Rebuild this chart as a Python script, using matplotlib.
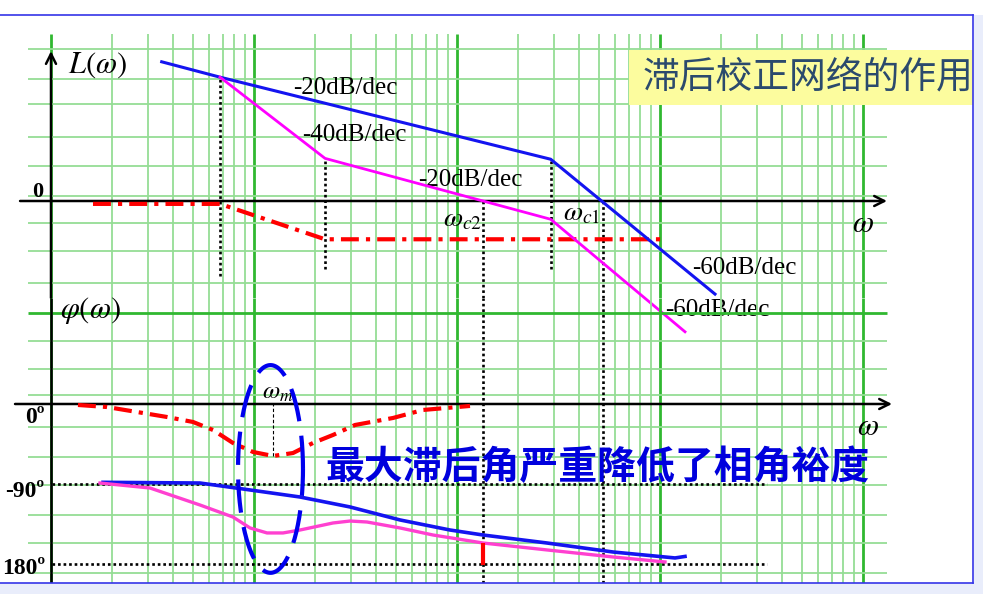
import matplotlib.pyplot as plt
import numpy as np
from matplotlib.patches import Rectangle
from matplotlib.lines import Line2D

plt.rcParams['mathtext.fontset'] = 'stix'

# ---- values ----
# magnitude asymptotes, L in dB against omega
w_orig = [0.0351, 0.068, 2.894, 18.66]          # uncorrected (blue)
L_orig = [48.0, 42.7, 14.4, -32.1]
w_corr = [0.068, 0.2238, 1.343, 2.894, 13.28]   # corrected (magenta)
L_corr = [42.7, 14.7, 0.0, -6.3, -45.1]
w_lag = [0.0161, 0.068, 0.2238, 10.23]          # lag network (red)
L_lag = [-1.0, -1.0, -13.2, -13.2]

# phase in degrees
w_ph_lag = [0.01358, 0.01888, 0.03727, 0.05006, 0.06281, 0.07879, 0.09888, 0.1241,
            0.1556, 0.1953, 0.2450, 0.3145, 0.4840, 0.6804, 1.159]
ph_lag = [-1.1, -3.4, -14.6, -20.2, -29.2, -43.8, -53.9, -58.4,
          -55.1, -43.8, -34.8, -23.6, -15.7, -6.7, -2.2]
w_ph_orig = [0.01804, 0.0542, 0.0883, 0.1685, 0.2972, 0.5240, 0.9237, 1.343,
             2.776, 5.868, 11.86, 13.28]
ph_orig = [-88.0, -88.8, -95.5, -104.5, -115.7, -130.3, -141.6, -147.2,
           -156.2, -166.3, -173.0, -171.3]
w_ph_corr = [0.01743, 0.03074, 0.0542, 0.07879, 0.0956, 0.1159, 0.1390, 0.1685, 0.2450,
             0.2972, 0.3603, 0.5240, 0.7616, 1.343, 2.776, 5.868, 10.58]
ph_corr = [-88.8, -94.4, -113.5, -127.0, -139.3, -144.9, -144.9, -141.6, -133.7,
           -131.5, -132.6, -139.3, -147.2, -156.2, -164.0, -171.9, -177.5]

w_c1 = 5.24
w_c2 = 1.343
w_m = 0.1241
pm_bar = [-156.2, -180.9]

# grid
grid_w = [d * 10.0 ** k for k in range(-2, 2) for d in range(1, 10)] + [100.0]
hgrid_mag = [52.4, 42.1, 33.4, 22.1, 12.1, 1.7, -7.6, -17.2, -28.3]
hgrid_ph = [70.8, 39.3, 10.1, -25.8, -59.6, -91.0, -124.7, -156.2, -189.9]
hgrid_ph_major = 102.2

light = '#95dd95'
dark = '#30b830'
serif = 'Liberation Serif'

fig = plt.figure(figsize=(9.83, 5.94), dpi=100)
ax1 = fig.add_axes([0, 296 / 594, 1, 298 / 594])
ax2 = fig.add_axes([0, 0, 1, 296 / 594])
for ax in (ax1, ax2):
    ax.set_xscale('log')
    ax.set_xlim(10 ** (-457 / 203), 10 ** (526 / 203))
    ax.axis('off')
    ax.patch.set_alpha(0)
ax1.set_ylim(-33.45, 69.31)
ax2.set_ylim(-213.5, 119.1)

# green log grid
for w in grid_w:
    major = abs(np.log10(w) - round(np.log10(w))) < 1e-6
    c, lw = (dark, 2.0) if major else (light, 1.3)
    ax1.vlines(w, -33.45, 57.6, color=c, lw=lw, zorder=1)
    ax2.vlines(w, -201.1, 119.1, color=c, lw=lw, zorder=1)
ax1.hlines(hgrid_mag, 0.0077, 131.3, color=light, lw=1.3, zorder=1)
ax2.hlines(hgrid_ph, 0.0077, 131.3, color=light, lw=1.3, zorder=1)
ax2.hlines(hgrid_ph_major, 0.0077, 131.3, color=dark, lw=2.0, zorder=1)

# axes with arrows
arr = dict(arrowstyle='->', color='k', lw=1.8, mutation_scale=18, shrinkA=0, shrinkB=0)
ax1.annotate('', xy=(131.3, 0), xytext=(0.00704, 0), arrowprops=arr, zorder=3)
ax1.annotate('', xy=(0.01, 51.7), xytext=(0.01, -33.45), arrowprops=arr, zorder=3)
ax2.vlines(0.01, -201.1, 119.1, color='k', lw=1.8, zorder=3)
ax2.annotate('', xy=(139.0, 0), xytext=(0.00665, 0), arrowprops=arr, zorder=3)

# dotted guide lines
dot = dict(color='k', lw=1.9, linestyles=(0, (1, 1.1)), zorder=2)
ax1.vlines(w_orig[1], -25.9, L_orig[1], **dot)
ax1.vlines(w_corr[1], -23.4, L_corr[1], **dot)
ax1.vlines(w_orig[2], -23.4, L_orig[2], **dot)
ax1.vlines([w_c2, w_c1], -33.45, 0, **dot)
ax2.vlines([w_c2, w_c1], -201.1, 119.1, **dot)
ax2.hlines([-90, -180], 0.0101, 33.7, **dot)

# magnitude curves
ax1.plot(w_lag, L_lag, color='#ff0000', lw=3, dashes=(4.3, 1.7, 1, 1.7), zorder=4)
ax1.plot(w_orig, L_orig, color='#1414f0', lw=2.2, zorder=5)
ax1.plot(w_corr, L_corr, color='#ff00ff', lw=2.0, zorder=5, clip_on=False)

# phase curves
ax2.plot(w_ph_lag, ph_lag, color='#ff0000', lw=3, dashes=(4.3, 1.7, 1, 1.7), zorder=4)
ax2.plot(w_ph_orig, ph_orig, color='#1414f0', lw=2.6, zorder=5)
ax2.plot(w_ph_corr, ph_corr, color='#ff40d0', lw=2.4, zorder=5)
ax2.vlines(w_c2, pm_bar[1], pm_bar[0], color='#ff0000', lw=3, zorder=6)
ax2.vlines(w_m, min(ph_lag), 0, color='k', lw=0.8, linestyles=(0, (3, 2)), zorder=2)

# dashed ellipse round the max lag
t = np.linspace(0, 2 * np.pi, 300)
ax2.plot(10 ** (-0.9187 + 0.160 * np.cos(t)), -73.0 + 116.7 * np.sin(t),
         color='#0000ee', lw=3, linestyle=(0, (8, 3.5)), zorder=7, clip_on=False)

# labels, magnitude
ax1.text(0.0121, 46.9, r'$L(\omega)$', fontsize=22, va='center')
ax1.text(0.00863, 3.1, '0', family=serif, weight='bold', fontsize=16, ha='center', va='center')
ax1.text(0.1556, 39.0, '-20dB/dec', family=serif, fontsize=18, va='center')
ax1.text(0.1723, 22.8, '-40dB/dec', family=serif, fontsize=18, va='center')
ax1.text(0.6426, 7.2, '-20dB/dec', family=serif, fontsize=18, va='center')
ax1.text(14.38, -23.1, '-60dB/dec', family=serif, fontsize=18, va='center')
ax1.text(10.58, -37.6, '-60dB/dec', family=serif, fontsize=18, va='center', zorder=3)
ax1.text(0.853, -5.9, r'$\omega_{c2}$', fontsize=20, va='center')
ax1.text(3.33, -4.1, r'$\omega_{c1}$', fontsize=20, va='center')
ax1.text(100, -7.9, r'$\omega$', fontsize=22, ha='center', va='center')

# labels, phase
ax2.text(0.01107, 105.6, r'$\varphi(\omega)$', fontsize=22, va='center')
ax2.text(0.00934, -15.7, '0º', family=serif, weight='bold', fontsize=17, ha='right', va='center')
ax2.text(0.00923, -97.8, '-90º', family=serif, weight='bold', fontsize=17, ha='right', va='center')
ax2.text(0.00934, -184.3, '180º', family=serif, weight='bold', fontsize=17, ha='right', va='center')
ax2.text(105.8, -25.8, r'$\omega$', fontsize=22, ha='center', va='center')
ax2.text(0.1095, 13.5, r'$\omega_m$', fontsize=18, va='center')
ax2.text(0.2238, -71.9, '最大滞后角严重降低了相角裕度', family=['Noto Sans CJK SC'],
         weight='bold', fontsize=28, color='#0000dd', va='center', zorder=8)

# slide frame and title box
W, H = 983, 594
fig.add_artist(Rectangle((974 / W, 0), 9 / W, 1 - 15 / H, transform=fig.transFigure,
                         facecolor='#e9edfb', edgecolor='none', zorder=5))
fig.add_artist(Rectangle((0, 0), 1, 11 / H, transform=fig.transFigure,
                         facecolor='#e9edfb', edgecolor='none', zorder=5))
fig.add_artist(Line2D([0, 973 / W], [1 - 15 / H] * 2, transform=fig.transFigure, color='#3535e8', lw=1.2, zorder=6))
fig.add_artist(Line2D([973 / W] * 2, [1 - 15 / H, 11 / H], transform=fig.transFigure, color='#3535e8', lw=1.2, zorder=6))
fig.add_artist(Line2D([0, 973 / W], [11 / H] * 2, transform=fig.transFigure, color='#3535e8', lw=1.2, zorder=6))
fig.add_artist(Rectangle((629 / W, 1 - 105 / H), 344 / W, 55 / H, transform=fig.transFigure,
                         facecolor='#fcfc9e', edgecolor='none', zorder=3))
fig.text(643 / W, 1 - 78 / H, '滞后校正网络的作用', family=['Noto Sans CJK SC'], fontsize=26.5,
         color='#2b4a6d', va='center', zorder=4)

fig.savefig('out.png', dpi=100)
